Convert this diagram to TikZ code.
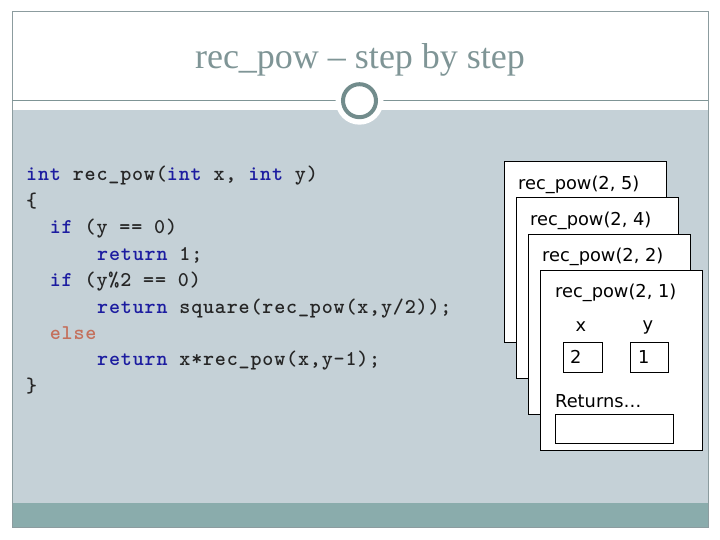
\documentclass[tikz,border=0pt]{standalone}
\usepackage{fontspec}
\setmainfont{Liberation Serif}
\newfontfamily\boxfont{DejaVu Sans}
\newfontfamily\codefont{Latin Modern Mono Light}[LetterSpace=4]
\definecolor{bandgray}{HTML}{C5D1D7}
\definecolor{barteal}{HTML}{8AACAC}
\definecolor{framegray}{HTML}{8C9C9F}
\definecolor{titlegray}{HTML}{7F9596}
\definecolor{ringgray}{HTML}{728C8C}
\definecolor{kwblue}{HTML}{1C1CA0}
\definecolor{codeink}{HTML}{262626}
\definecolor{elsered}{HTML}{C4705C}
\newcommand{\kw}[1]{\textcolor{kwblue}{#1}}
\begin{document}
\begin{tikzpicture}[x=1pt,y=-1pt,
  codeline/.style={anchor=base west,inner sep=0pt,text=codeink,font=\codefont\bfseries\fontsize{21}{24}\selectfont},
  frame/.style={draw=black,line width=1pt,fill=white,minimum width=162pt,minimum height=180pt,inner sep=0pt},
  boxtext/.style={inner sep=0pt,font=\boxfont\fontsize{17.8}{20}\selectfont,text=black},
  cell/.style={draw=black,line width=1pt,fill=white,inner sep=0pt}]
\useasboundingbox (0,0) rectangle (720,540);
% background
\fill[white] (0,0) rectangle (720,540);
\fill[bandgray] (12,110) rectangle (708,503);
\fill[barteal] (12,503) rectangle (708,527);
\draw[framegray,line width=1pt] (12,12) rectangle (708,527.5);
\draw[titlegray,line width=1.2pt] (12,100.5) -- (708,100.5);
% title
\node[font=\fontsize{36}{40}\selectfont,text=titlegray,anchor=base] (title) at (360,69) {rec\_pow -- step by step};
% ring
\node[circle,fill=white,minimum size=48pt,inner sep=0pt] (halo) at (359.5,100.7) {};
\node[circle,draw=ringgray,line width=4pt,fill=white,minimum size=33pt,inner sep=0pt] (ring) at (359.5,100.7) {};
% code
\node[codeline] (c1) at (26,181) {\kw{int} rec\_pow(\kw{int} x, \kw{int} y)};
\node[codeline] (c2) at (26,207.4) {\{};
\node[codeline] (c3) at (49.7,233.8) {\kw{if} (y == 0)};
\node[codeline] (c4) at (97,260.2) {\kw{return} 1;};
\node[codeline] (c5) at (49.7,286.6) {\kw{if} (y\%2 == 0)};
\node[codeline] (c6) at (97,313) {\kw{return} square(rec\_pow(x,y/2));};
\node[codeline] (c7) at (49.7,339.4) {\textcolor{elsered}{else}};
\node[codeline] (c8) at (97,365.8) {\kw{return} x*rec\_pow(x,y-1);};
\node[codeline] (c9) at (26,392.2) {\}};
% stack frames
\node[frame] (b1) at (585,252) {};
\node[frame] (b2) at (597,288) {};
\node[frame] (b3) at (609,324) {};
\node[frame] (b4) at (621,360) {};
\node[boxtext,anchor=west] (t1) at (518,185) {rec\_pow(2, 5)};
\node[boxtext,anchor=west] (t2) at (530,221) {rec\_pow(2, 4)};
\node[boxtext,anchor=west] (t3) at (542,257) {rec\_pow(2, 2)};
\node[boxtext,anchor=west] (t4) at (555,293) {rec\_pow(2, 1)};
\node[boxtext] (lx) at (581,327) {x};
\node[boxtext] (ly) at (648,327) {y};
\node[cell,minimum width=39pt,minimum height=30pt] (vx) at (582.5,357) {};
\node[cell,minimum width=38pt,minimum height=30pt] (vy) at (649,357) {};
\node[boxtext,anchor=west] (nx) at (570,357) {2};
\node[boxtext,anchor=west] (ny) at (638,357) {1};
\node[boxtext,anchor=west] (ret) at (555,401) {Returns…};
\node[cell,minimum width=118pt,minimum height=29pt] (rv) at (614,428.5) {};
\end{tikzpicture}
\end{document}
